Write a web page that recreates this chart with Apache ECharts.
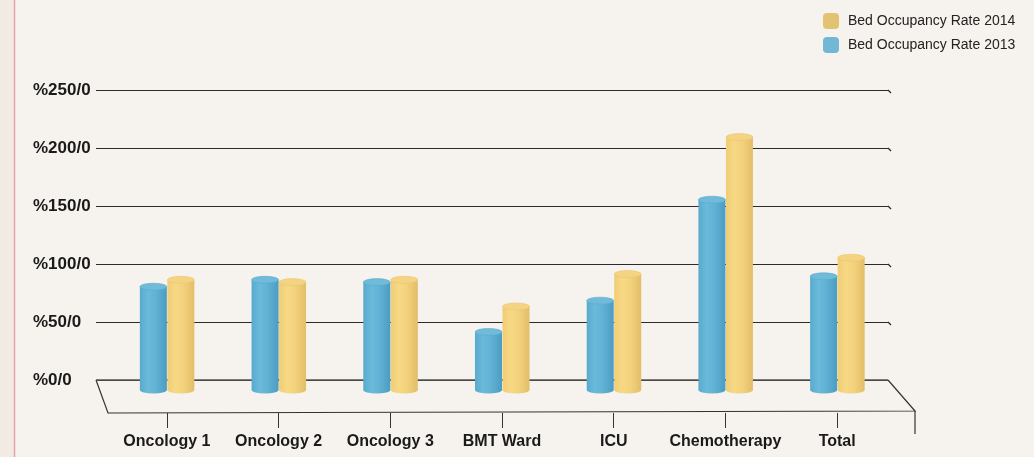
<!DOCTYPE html>
<html>
<head>
<meta charset="utf-8">
<script src="https://cdn.jsdelivr.net/npm/echarts@6/dist/echarts.min.js"></script>
<style>
html,body{margin:0;padding:0;background:#f6f3ee;}
#c{width:1034px;height:457px;}
</style>
</head>
<body>
<div id="c"></div>
<script>
const categories = ['Oncology 1', 'Oncology 2', 'Oncology 3', 'BMT Ward', 'ICU', 'Chemotherapy', 'Total'];
const rate2013 = [89, 95, 93, 50, 77, 164, 98];
const rate2014 = [95, 93, 95, 72, 100, 218, 114];
const yTicks = [0, 50, 100, 150, 200, 250];
const seriesNames = ['Bed Occupancy Rate 2014', 'Bed Occupancy Rate 2013'];

const W = 1034, H = 457;
// back wall grid
const G0 = {left: 96, right: 146, top: 90, bottom: 77};
// bar plane (mid depth)
const G1 = {left: 111, right: 141, top: 100, bottom: 67};
// front edge of floor (category ticks and labels)
const G2 = {left: 111, right: 141, top: 100, bottom: 44};
const FONT = '"Liberation Sans", Arial, sans-serif';

const palette = {
  blue: {side: ['#58aacd', '#6bbadb', '#60b2d4', '#4c9cc2'], top: '#70bbda', edge: '#5aa8cb', legend: '#72b8d4'},
  yellow: {side: ['#f0cd76', '#f7d884', '#f3d27d', '#e3bd67'], top: '#f4d482', edge: '#e8c572', legend: '#e3c272'}
};

function cylinder(pal, offset) {
  return function (params, api) {
    const top = api.coord([api.value(0), api.value(1)]);
    const base = api.coord([api.value(0), 0]);
    const rx = 13.5, ry = 3.5;
    const cx = top[0] + offset;
    const ty = top[1], by = base[1];
    const body = 'M' + (cx - rx) + ' ' + ty + ' L' + (cx - rx) + ' ' + by +
      ' A' + rx + ' ' + ry + ' 0 0 0 ' + (cx + rx) + ' ' + by +
      ' L' + (cx + rx) + ' ' + ty + ' Z';
    const cap = 'M' + (cx - rx) + ' ' + ty +
      ' A' + rx + ' ' + ry + ' 0 1 0 ' + (cx + rx) + ' ' + ty +
      ' A' + rx + ' ' + ry + ' 0 1 0 ' + (cx - rx) + ' ' + ty + ' Z';
    return {
      type: 'group',
      children: [
        {type: 'path', shape: {pathData: body}, style: {
          fill: new echarts.graphic.LinearGradient(0, 0, 1, 0, [
            {offset: 0, color: pal.side[0]},
            {offset: 0.3, color: pal.side[1]},
            {offset: 0.6, color: pal.side[2]},
            {offset: 1, color: pal.side[3]}
          ]), stroke: null}},
        {type: 'path', shape: {pathData: cap}, style: {fill: pal.top, stroke: pal.edge, lineWidth: 0.6}}
      ]
    };
  };
}

const chart = echarts.init(document.getElementById('c'), null, {renderer: 'canvas'});

const option = {
  backgroundColor: '#f6f3ee',
  animation: false,
  legend: {
    orient: 'vertical',
    left: 823, top: 13, padding: 0,
    itemWidth: 16, itemHeight: 16, itemGap: 8,
    icon: 'roundRect',
    data: seriesNames,
    textStyle: {fontFamily: FONT, fontSize: 14, color: '#222', padding: [0, 0, 0, 4]}
  },
  grid: [
    {left: G0.left, right: G0.right, top: G0.top, bottom: G0.bottom},
    {left: G1.left, right: G1.right, top: G1.top, bottom: G1.bottom},
    {left: G2.left, right: G2.right, top: G2.top, bottom: G2.bottom}
  ],
  xAxis: [
    {type: 'category', gridIndex: 0, data: categories, show: false},
    {type: 'category', gridIndex: 1, data: categories, show: false},
    {type: 'category', gridIndex: 2, data: categories,
      axisLine: {show: false},
      axisTick: {show: true, alignWithLabel: true, length: 15, lineStyle: {color: '#333', width: 1}},
      axisLabel: {margin: 21, fontFamily: FONT, fontSize: 16, fontWeight: 'bold', color: '#1a1a1a', interval: 0}}
  ],
  yAxis: [
    {type: 'value', gridIndex: 0, min: yTicks[0], max: yTicks[yTicks.length - 1], interval: yTicks[1] - yTicks[0],
      axisLine: {show: false}, axisTick: {show: false},
      splitLine: {lineStyle: {color: '#2a2a2a', width: 1.2}},
      axisLabel: {margin: 63, align: 'left', fontFamily: FONT, fontSize: 17, fontWeight: 'bold', color: '#1a1a1a',
        formatter: v => '%' + v + '/0'}},
    {type: 'value', gridIndex: 1, min: yTicks[0], max: yTicks[yTicks.length - 1], show: false},
    {type: 'value', gridIndex: 2, min: yTicks[0], max: yTicks[yTicks.length - 1], show: false}
  ],
  series: [
    {name: seriesNames[0], type: 'custom', xAxisIndex: 1, yAxisIndex: 1, z: 5,
      itemStyle: {color: palette.yellow.legend},
      renderItem: cylinder(palette.yellow, 14),
      data: rate2014.map((v, i) => [i, v])},
    {name: seriesNames[1], type: 'custom', xAxisIndex: 1, yAxisIndex: 1, z: 5,
      itemStyle: {color: palette.blue.legend},
      renderItem: cylinder(palette.blue, -13.5),
      data: rate2013.map((v, i) => [i, v])}
  ]
};
chart.setOption(option);

// decorations: notebook margin, floor and gridline hooks
const backL = G0.left, backR = W - G0.right, backY = H - G0.bottom;
const frontY = H - G2.bottom;
const hooks = yTicks.slice(1).map(t => {
  const y = chart.convertToPixel({yAxisIndex: 0}, t);
  return {type: 'line', shape: {x1: backR, y1: y, x2: backR + 3, y2: y + 3}, style: {stroke: '#2a2a2a', lineWidth: 1.2}, z: 1};
});
chart.setOption({
  graphic: [
    {type: 'rect', shape: {x: 0, y: 0, width: 14, height: H}, style: {fill: '#f1ebe3'}, z: -10, silent: true},
    {type: 'line', shape: {x1: 14.5, y1: 0, x2: 14.5, y2: H}, style: {stroke: '#e7a2a9', lineWidth: 1.5}, z: -5, silent: true},
    {type: 'polyline', shape: {points: [[backL, backY], [backL + 12, frontY], [backR + 27, frontY - 2], [backR, backY]]},
      style: {stroke: '#333', lineWidth: 1.2, fill: null}, z: 1, silent: true},
    {type: 'line', shape: {x1: backL, y1: backY, x2: backR, y2: backY}, style: {stroke: '#555', lineWidth: 1.5}, z: 1, silent: true},
    {type: 'line', shape: {x1: backR + 27, y1: frontY - 2, x2: backR + 27, y2: frontY + 21}, style: {stroke: '#333', lineWidth: 1.2}, z: 1, silent: true}
  ].concat(hooks)
});
</script>
</body>
</html>
